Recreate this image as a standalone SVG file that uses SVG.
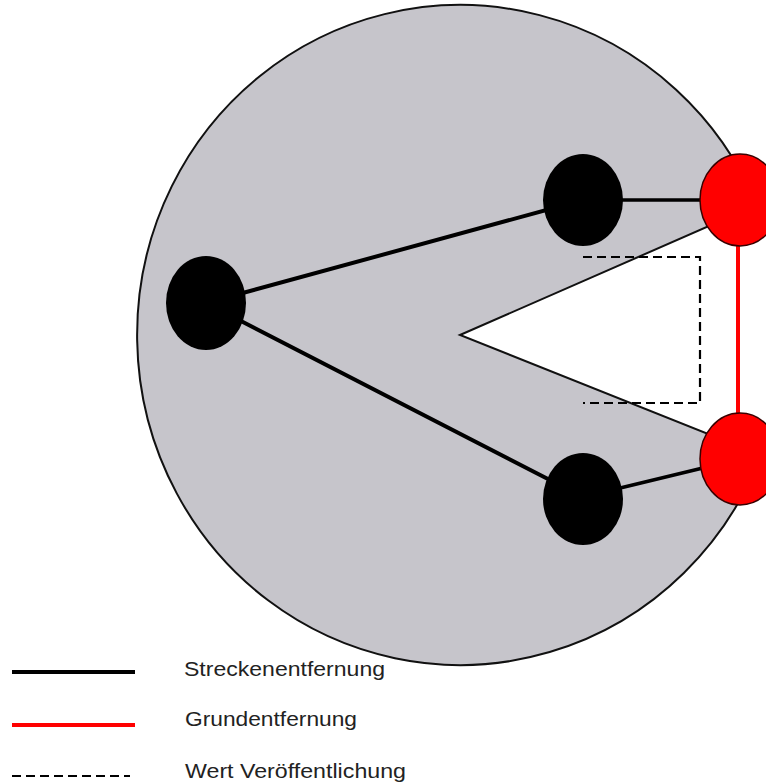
<svg xmlns="http://www.w3.org/2000/svg" width="766" height="784" viewBox="0 0 766 784">
<style>
.lbl{font-family:"Liberation Sans","DejaVu Sans",sans-serif;font-size:21px;fill:#222}
.blk{fill:#000}
.red{fill:#ff0000;stroke:#3a0000;stroke-width:1.5}
.edge{stroke:#000;stroke-width:4;fill:none;stroke-linecap:round}
.redge{stroke:#ff0000;stroke-width:4;fill:none}
.dash{stroke:#000;stroke-width:2.2;fill:none;stroke-dasharray:9 5}
</style>
<rect width="766" height="784" fill="#fff"/>
<g id="area">
<path d="M 460 335 L 757 205 A 323 330 0 1 0 761 455 Z" fill="#c6c5cb" stroke="#111" stroke-width="2" stroke-linejoin="miter"/>
</g>
<g id="publication">
<path class="dash" d="M 583 257 H 700 V 403 H 583"/>
</g>
<g id="connectors">
<line class="edge" x1="206" y1="303" x2="583" y2="200"/>
<line class="edge" x1="206" y1="303" x2="583" y2="497"/>
<line class="edge" x1="583" y1="200" x2="740" y2="200" style="stroke-width:3.5"/>
<line class="edge" x1="583" y1="497" x2="740" y2="459" style="stroke-width:3.5"/>
<line class="redge" x1="738" y1="240" x2="738" y2="420"/>
</g>
<g id="node-left"><ellipse class="blk" cx="206" cy="303" rx="40" ry="47"/></g>
<g id="node-top"><ellipse class="blk" cx="583" cy="200" rx="40" ry="46"/></g>
<g id="node-bottom"><ellipse class="blk" cx="583" cy="499" rx="40" ry="46"/></g>
<g id="red-top"><ellipse class="red" cx="740" cy="200" rx="40" ry="46"/></g>
<g id="red-bottom"><ellipse class="red" cx="740" cy="459" rx="40" ry="46"/></g>
<g id="legend">
<line x1="12" y1="672" x2="135" y2="672" stroke="#000" stroke-width="4"/>
<line x1="12" y1="725" x2="135" y2="725" stroke="#ff0000" stroke-width="4"/>
<line x1="12" y1="776" x2="130" y2="776" stroke="#000" stroke-width="2.2" stroke-dasharray="9 5"/>
<text class="lbl" x="184" y="676" textLength="201" lengthAdjust="spacingAndGlyphs">Streckenentfernung</text>
<text class="lbl" x="185" y="726" textLength="172" lengthAdjust="spacingAndGlyphs">Grundentfernung</text>
<text class="lbl" x="185" y="778" textLength="221" lengthAdjust="spacingAndGlyphs">Wert Veröffentlichung</text>
</g>
</svg>
